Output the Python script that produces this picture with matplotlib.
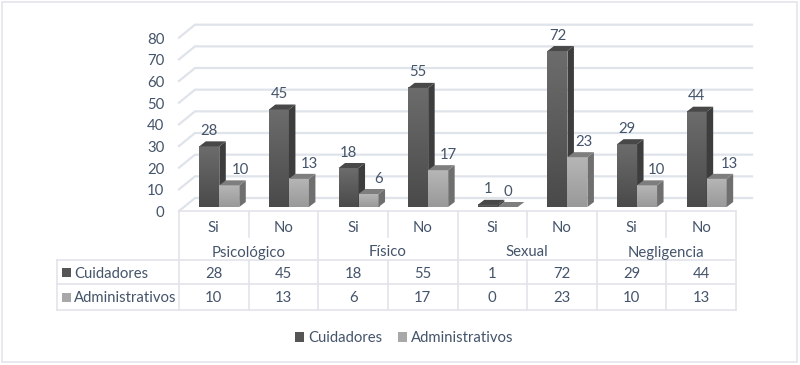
import numpy as np
import matplotlib
matplotlib.use("Agg")
import matplotlib.pyplot as plt
from matplotlib.patches import Polygon, Rectangle

plt.rcParams['font.family'] = ['Lato', 'DejaVu Sans']

# datos
grupos = ['Psicológico', 'Físico', 'Sexual', 'Negligencia']
respuestas = ['Si', 'No', 'Si', 'No', 'Si', 'No', 'Si', 'No']
series = ['Cuidadores', 'Administrativos']
cuidadores = [28, 45, 18, 55, 1, 72, 29, 44]
administrativos = [10, 13, 6, 17, 0, 23, 10, 13]
yticks = [0, 10, 20, 30, 40, 50, 60, 70, 80]

# geometria en pixeles
x0, x1, base_px = 179, 736, 207
px_y = 173.3 / 80
px_x = (x1 - x0) / 8
grid_c = '#dfe3ea'
tabla_c = '#e1e4ea'
txt_c = '#44546a'
fs = 10.7
ajuste = 1.5  # el texto queda un poco alto con va='center'

fig = plt.figure(figsize=(8, 3.65), dpi=100)

# capa de fondo en pixeles (marco, tabla, textos)
bg = fig.add_axes([0, 0, 1, 1])
bg.set_xlim(0, 800)
bg.set_ylim(365, 0)
bg.axis('off')
bg.add_patch(Rectangle((2, 1.5), 795, 360.5, fill=False, ec='#e3e5eb', lw=1.2))

# ejes de las barras
ax = fig.add_axes([x0 / 800, (365 - base_px) / 365, (x1 - x0) / 800, 173.3 / 365])
ax.set_xlim(0, 8)
ax.set_ylim(0, 80)
ax.axis('off')
ax.patch.set_alpha(0)

dx_w, dy_w = 16 / px_x, 13 / px_y      # profundidad de la pared
dx_b, dy_b = 6.5 / px_x, 5 / px_y      # profundidad de la barra
suelo = -4 / px_y

for t in yticks:
    yy = t + suelo
    ax.plot([0, dx_w, 8 + dx_w], [yy, yy + dy_w, yy + dy_w], color=grid_c, lw=1.6,
            clip_on=False, zorder=1, solid_joinstyle='miter')


def barra(xi, ancho, val, c_top, c_bot, c_lado, c_tapa, z):
    grad = np.linspace(0, 1, 64).reshape(-1, 1)
    rgb0, rgb1 = np.array(matplotlib.colors.to_rgb(c_top)), np.array(matplotlib.colors.to_rgb(c_bot))
    img = rgb0 + (rgb1 - rgb0) * grad[..., None]
    if val > 0:
        ax.imshow(img, extent=[xi, xi + ancho, 0, val], aspect='auto', zorder=z, clip_on=False)
    ax.add_patch(Polygon([[xi + ancho, 0], [xi + ancho + dx_b, dy_b], [xi + ancho + dx_b, val + dy_b],
                          [xi + ancho, val]], fc=c_lado, ec='none', zorder=z, clip_on=False))
    ax.add_patch(Polygon([[xi, val], [xi + ancho, val], [xi + ancho + dx_b, val + dy_b],
                          [xi + dx_b, val + dy_b]], fc=c_tapa, ec='none', zorder=z, clip_on=False))


ancho = 20 / px_x
ini = 20.3 / px_x
for i in range(8):
    z = 3 + i
    barra(i + ini, ancho, cuidadores[i], '#6c6c6c', '#4a4a4a', '#3d3d3d', '#484848', z)
    barra(i + ini + ancho, ancho, administrativos[i], '#b6b6b6', '#999999', '#6f6f6f', '#7e7e7e', z + 0.5)

ax.set_xlim(0, 8)
ax.set_ylim(0, 80)

# etiquetas de datos
off_adm = [11, 10, 10, 10, 0, 6, 9, 13]
for i in range(8):
    xc = i + ini + ancho / 2
    ax.text(xc, cuidadores[i] + (17 - ajuste) / px_y, str(cuidadores[i]), ha='center', va='center',
            color=txt_c, fontsize=fs, clip_on=False, zorder=30)
    xa = i + ini + ancho * 1.5 + off_adm[i] / px_x
    ax.text(xa, administrativos[i] + (16.5 - ajuste) / px_y, str(administrativos[i]), ha='center', va='center',
            color=txt_c, fontsize=fs, clip_on=False, zorder=30)

# etiquetas eje y
for k, t in enumerate(yticks):
    bg.text(164.5, 211 - t * px_y + 0.5 + ajuste, str(t), ha='right', va='center', color=txt_c, fontsize=fs)

# tabla
xs = [x0 + px_x * i for i in range(9)]
for y in [260, 284, 310]:
    bg.plot([57, x1], [y, y], color=tabla_c, lw=1.2)
bg.plot([x0, x1], [211, 211], color=tabla_c, lw=1.2)
bg.plot([57, 57], [260, 310], color=tabla_c, lw=1.2)
for i, x in enumerate(xs):
    if i % 2 == 0:
        bg.plot([x, x], [211, 310], color=tabla_c, lw=1.2)
    else:
        bg.plot([x, x], [211, 237], color=tabla_c, lw=1.2)
        bg.plot([x, x], [260, 310], color=tabla_c, lw=1.2)

for i in range(8):
    xc = x0 + px_x * (i + 0.5)
    bg.text(xc, 227 + ajuste, respuestas[i], ha='center', va='center', color=txt_c, fontsize=fs)
    bg.text(xc, 272 + ajuste, str(cuidadores[i]), ha='center', va='center', color=txt_c, fontsize=fs)
    bg.text(xc, 297 + ajuste, str(administrativos[i]), ha='center', va='center', color=txt_c, fontsize=fs)
for j, g in enumerate(grupos):
    bg.text(x0 + px_x * (2 * j + 1), 251 + ajuste, g, ha='center', va='center', color=txt_c, fontsize=fs)

colores = ['#555555', '#a8a8a8']
for nombre, c, y in zip(series, colores, [272, 297]):
    bg.add_patch(Rectangle((61.5, y - 4), 9, 9, fc=c, ec='none'))
    bg.text(74, y + ajuste, nombre, ha='left', va='center', color=txt_c, fontsize=fs)

# leyenda
for nombre, c, x in zip(series, colores, [295, 398]):
    bg.add_patch(Rectangle((x, 332), 9, 9.5, fc=c, ec='none'))
    bg.text(x + 13, 336.5 + ajuste, nombre, ha='left', va='center', color=txt_c, fontsize=fs)

fig.savefig('out.png', dpi=100)
